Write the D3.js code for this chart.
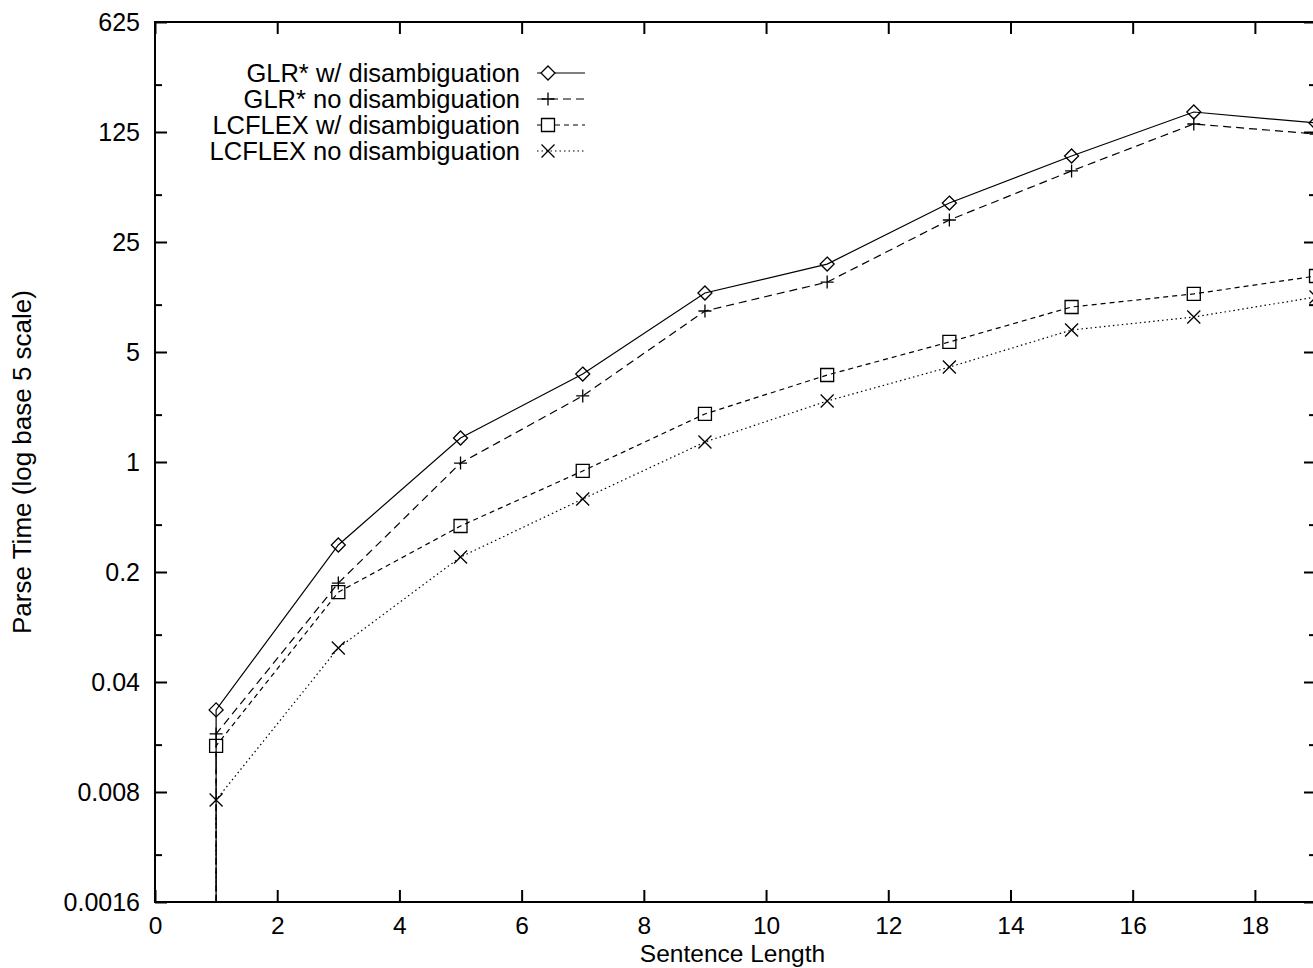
<!DOCTYPE html>
<html>
<head>
<meta charset="utf-8">
<script src="https://cdn.jsdelivr.net/npm/d3@7"></script>
<style>
  html, body { margin: 0; padding: 0; background: #fff; overflow: hidden; }
  svg { display: block; }
  text { font-family: "Liberation Sans", Arial, Helvetica, sans-serif; fill: #000; }
</style>
</head>
<body>
<svg id="chart" width="1313" height="968"></svg>
<script>
// ---- data ----
const sentenceLengths = [1, 3, 5, 7, 9, 11, 13, 15, 17, 19];
const glrWithDisamb   = [0.0266, 0.297, 1.42, 3.62, 11.85, 18.1, 44.2, 88.0, 167.5, 142.6];
const glrNoDisamb     = [0.0187, 0.170, 0.985, 2.63, 9.11, 13.9, 34.5, 70.7, 140.5, 121.4];
const lcflexWithDisamb = [0.0157, 0.149, 0.392, 0.877, 2.02, 3.57, 5.79, 9.66, 11.7, 15.2];
const lcflexNoDisamb   = [0.00712, 0.0658, 0.249, 0.582, 1.34, 2.44, 4.01, 6.90, 8.34, 11.18];
// each series starts with an off-scale (below range) reading at length 1
const offScaleStart = 0.0005;
const seriesNames = ["GLR* w/ disambiguation", "GLR* no disambiguation",
                     "LCFLEX w/ disambiguation", "LCFLEX no disambiguation"];
const xTickValues = [0, 2, 4, 6, 8, 10, 12, 14, 16, 18];
const yTickValues = [0.0016, 0.008, 0.04, 0.2, 1, 5, 25, 125, 625];
const yTickLabels = ["0.0016", "0.008", "0.04", "0.2", "1", "5", "25", "125", "625"];
const yMinorTickValues = [0.0032, 0.016, 0.08, 0.4, 2, 10, 50, 250];
const xTitle = "Sentence Length";
const yTitle = "Parse Time (log base 5 scale)";

// ---- layout ----
const L = 155, R = 1316, T = 22, B = 902;
const FS = 25;

const svg = d3.select("#chart");
const x = d3.scaleLinear().domain([0, 19]).range([L, R]);
const y = d3.scaleLog().base(5).domain([0.0016, 625]).range([B, T]);

svg.append("defs").append("clipPath").attr("id", "plotclip")
  .append("rect").attr("x", L).attr("y", T).attr("width", R - L).attr("height", B - T);

// axes
function styleAxis(g, labels, fs) {
  g.select(".domain").remove();
  g.selectAll(".tick line").attr("stroke", "#000").attr("stroke-width", 2);
  if (labels) g.selectAll(".tick text").style("font-size", (fs || FS) + "px").attr("fill", "#000");
  else g.selectAll(".tick text").remove();
}
const TICK = 12, MINOR = 7;

svg.append("g").attr("transform", `translate(0,${B})`)
  .call(d3.axisBottom(x).tickValues(xTickValues).tickSize(-TICK).tickPadding(15).tickFormat(d3.format("d")))
  .call(g => styleAxis(g, true, 24.5));
svg.append("g").attr("transform", `translate(0,${T})`)
  .call(d3.axisTop(x).tickValues(xTickValues).tickSize(-TICK))
  .call(g => styleAxis(g, false));

svg.append("g").attr("transform", `translate(${L},0)`)
  .call(d3.axisLeft(y).tickValues(yTickValues).tickSize(-TICK).tickPadding(15)
        .tickFormat((d, i) => yTickLabels[i]))
  .call(g => styleAxis(g, true));
svg.append("g").attr("transform", `translate(${L},0)`)
  .call(d3.axisLeft(y).tickValues(yMinorTickValues).tickSize(-MINOR))
  .call(g => styleAxis(g, false));
svg.append("g").attr("transform", `translate(${R},0)`)
  .call(d3.axisRight(y).tickValues(yTickValues).tickSize(-TICK))
  .call(g => styleAxis(g, false));
svg.append("g").attr("transform", `translate(${R},0)`)
  .call(d3.axisRight(y).tickValues(yMinorTickValues).tickSize(-MINOR))
  .call(g => styleAxis(g, false));

// frame
svg.append("rect").attr("x", L).attr("y", T).attr("width", R - L).attr("height", B - T)
  .attr("fill", "none").attr("stroke", "#000").attr("stroke-width", 2);

// titles
svg.append("text").attr("x", (x(0) + x(19)) / 2 - 3).attr("y", 962)
  .attr("text-anchor", "middle").style("font-size", "24.5px").text(xTitle);
svg.append("text").attr("transform", `translate(31,${(T + B) / 2}) rotate(-90)`)
  .attr("text-anchor", "middle").style("font-size", "26px").text(yTitle);

// markers
const markers = [
  (g, cx, cy) => g.append("path").attr("d", `M${cx},${cy - 7}L${cx + 7},${cy}L${cx},${cy + 7}L${cx - 7},${cy}Z`),
  (g, cx, cy) => g.append("path").attr("d", `M${cx - 6.5},${cy}H${cx + 6.5}M${cx},${cy - 6.5}V${cy + 6.5}`),
  (g, cx, cy) => g.append("path").attr("d", `M${cx - 6.5},${cy - 6.5}H${cx + 6.5}V${cy + 6.5}H${cx - 6.5}Z`),
  (g, cx, cy) => g.append("path").attr("d", `M${cx - 6.5},${cy - 6.5}L${cx + 6.5},${cy + 6.5}M${cx + 6.5},${cy - 6.5}L${cx - 6.5},${cy + 6.5}`)
];
const dashes = [null, "8,5", "5,4", "1.5,3"];
const allSeries = [glrWithDisamb, glrNoDisamb, lcflexWithDisamb, lcflexNoDisamb];

const line = d3.line().x(d => x(d[0])).y(d => y(d[1]));
const plot = svg.append("g").attr("clip-path", "url(#plotclip)");

allSeries.forEach((vals, i) => {
  const pts = [[sentenceLengths[0], offScaleStart]].concat(sentenceLengths.map((s, j) => [s, vals[j]]));
  plot.append("path").attr("d", line(pts)).attr("fill", "none")
    .attr("stroke", "#000").attr("stroke-width", 1.2)
    .attr("stroke-dasharray", dashes[i]);
});
const mk = svg.append("g");
allSeries.forEach((vals, i) => {
  sentenceLengths.forEach((s, j) => {
    markers[i](mk, x(s), y(vals[j])).attr("fill", "none").attr("stroke", "#000").attr("stroke-width", 1.3);
  });
});

// legend
const legendRows = [73, 99, 125, 151];
const lg = svg.append("g");
seriesNames.forEach((name, i) => {
  const ry = legendRows[i];
  lg.append("text").attr("x", 520).attr("y", ry).attr("dy", "0.35em")
    .attr("text-anchor", "end").style("font-size", "25.5px").text(name);
  lg.append("line").attr("x1", 537).attr("x2", 585).attr("y1", ry).attr("y2", ry)
    .attr("stroke", "#000").attr("stroke-width", 1.2).attr("stroke-dasharray", dashes[i]);
  markers[i](lg, 548, ry).attr("fill", "#fff").attr("stroke", "#000").attr("stroke-width", 1.3);
});
</script>
</body>
</html>
